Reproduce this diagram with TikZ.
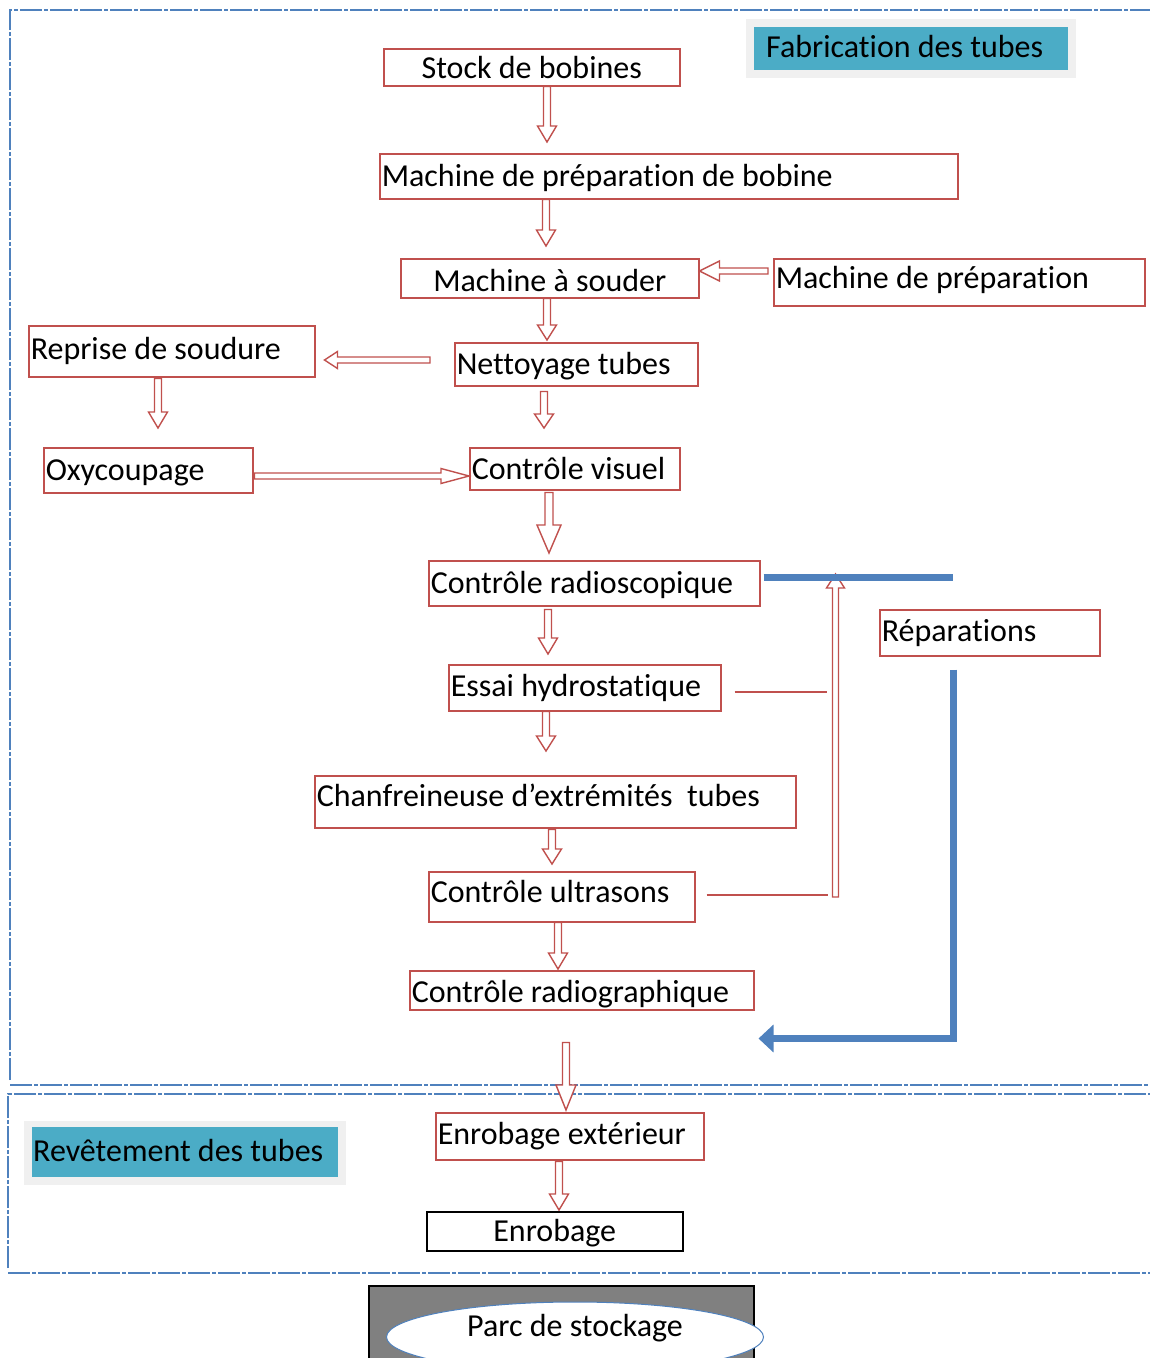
\documentclass[tikz,border=0pt]{standalone}
\usepackage{fontspec}
\setmainfont{Carlito}[Ligatures=NoCommon]
\usetikzlibrary{calc,arrows.meta,shapes.geometric}

\definecolor{boxred}{HTML}{C0504D}
\definecolor{lineblue}{HTML}{4F81BD}
\definecolor{tagblue}{HTML}{4BACC6}
\definecolor{taggray}{HTML}{F0F0F0}
\definecolor{parcgray}{HTML}{808080}

% hollow block arrow: start, end, shaft half width, head half width, head length
\newcommand\blockarrow[5]{%
  \coordinate (ba-s) at #1;
  \coordinate (ba-e) at #2;
  \coordinate (ba-q) at ($(ba-e)!#5!(ba-s)$);
  \draw[arrowline]
    ($(ba-s)!#3!90:(ba-e)$) -- ($(ba-q)!#3!-90:(ba-s)$) --
    ($(ba-q)!#4!-90:(ba-s)$) -- (ba-e) -- ($(ba-q)!#4!90:(ba-s)$) --
    ($(ba-q)!#3!90:(ba-s)$) -- ($(ba-s)!#3!-90:(ba-e)$) -- cycle;
}
% shift a label vertically without changing its box
\newcommand\lift[2]{\raisebox{#1}[\height][\depth]{#2}}

\tikzset{
  every node/.style={font=\fontsize{32}{37}\selectfont, text=black},
  rbox/.style={draw=boxred, line width=1.5pt, anchor=north west,
    inner xsep=2pt, inner ysep=0pt, align=flush left},
  arrowline/.style={draw=boxred, fill=white, line width=1.4pt, line join=miter},
  thinred/.style={draw=boxred, line width=1.2pt},
  bluebar/.style={draw=lineblue, line width=7pt},
  section/.style={draw=lineblue, line width=1.6pt,
    dash pattern=on 22pt off 2pt on 4pt off 2pt},
  tag/.style={fill=tagblue, anchor=north west, inner xsep=12pt, inner ysep=0pt,
    align=flush left},
}

\begin{document}
\begin{tikzpicture}[x=1pt, y=-1pt]
\useasboundingbox (0,0) rectangle (1150,1358);

% section frames
\draw[section] (10,1080) -- (10,10) -- (1150,10);
\draw[section] (10,1085) -- (1150,1085);
\draw[section] (8,1268) -- (8,1094) -- (1150,1094);
\draw[section] (8,1273) -- (1150,1273);

% section titles
\fill[taggray] (746,19) rectangle (1076,78);
\node[tag, minimum width=314pt, minimum height=43pt, text width=290pt] (fab) at (754,27) {\lift{2pt}{Fabrication des tubes}};
\fill[taggray] (24,1121) rectangle (346,1185);
\node[tag, minimum width=306pt, minimum height=50pt, text width=304pt, inner xsep=1pt] (rev) at (32,1127) {\lift{2pt}{Revêtement des tubes}};

% process steps
\node[rbox, minimum width=296pt, minimum height=37pt, text width=292pt, align=flush center] (stock) at (383,48) {Stock de bobines\hspace{9pt}};
\node[rbox, minimum width=578pt, minimum height=45pt, text width=574pt] (prepb) at (379,153) {\lift{-2pt}{Machine de préparation de bobine}};
\node[rbox, minimum width=298pt, minimum height=39pt, text width=294pt, align=flush center] (souder) at (400,258) {\lift{-2pt}{Machine à souder}\hspace{6pt}};
\node[rbox, minimum width=371pt, minimum height=47pt, text width=367pt] (prepm) at (773,258) {\lift{2pt}{Machine de préparation}};
\node[rbox, minimum width=286pt, minimum height=51pt, text width=282pt] (reprise) at (28,325) {Reprise de soudure};
\node[rbox, minimum width=243pt, minimum height=43pt, text width=239pt] (nett) at (454,342) {\lift{-2pt}{Nettoyage tubes}};
\node[rbox, minimum width=209pt, minimum height=45pt, text width=205pt] (oxy) at (43,447) {\lift{-3pt}{Oxycoupage}};
\node[rbox, minimum width=210pt, minimum height=42pt, text width=206pt] (visuel) at (469,447) {Contrôle visuel};
\node[rbox, minimum width=331pt, minimum height=45pt, text width=327pt] (radio) at (428,560) {\lift{-2pt}{Contrôle radioscopique}};
\node[rbox, minimum width=220pt, minimum height=46pt, text width=216pt] (rep) at (879,609) {Réparations};
\node[rbox, minimum width=272pt, minimum height=46pt, text width=268pt] (essai) at (448,664) {Essai hydrostatique};
\node[rbox, minimum width=481pt, minimum height=52pt, text width=477pt] (chanf) at (314,775) {\lift{6pt}{Chanfreineuse d’extrémités\ \ tubes}};
\node[rbox, minimum width=266pt, minimum height=50pt, text width=262pt] (ultra) at (428,871) {\lift{5pt}{Contrôle ultrasons}};
\node[rbox, minimum width=344pt, minimum height=39pt, text width=340pt] (radiog) at (409,970) {\lift{-4pt}{Contrôle radiographique}};
\node[rbox, minimum width=268pt, minimum height=47pt, text width=264pt] (enrx) at (435,1112) {Enrobage extérieur};
\node[rbox, draw=black, minimum width=256pt, minimum height=39pt, text width=252pt, align=flush center] (enrob) at (426,1211) {\lift{-2pt}{Enrobage}\hspace{8pt}};

% storage yard
\filldraw[fill=parcgray, draw=black, line width=1.5pt] (369,1420) -- (369,1286) -- (754,1286) -- (754,1420);
\node[ellipse, draw=lineblue, fill=white, line width=1pt, minimum width=377pt, minimum height=70pt] (parc-e) at (575,1337) {};
\node (parc) at (575,1328) {Parc de stockage};

% main flow
\blockarrow{($(stock.south west)+(164,0)$)}{($(prepb.north west)+(168,-11)$)}{3.5pt}{9.5pt}{16pt}
\blockarrow{($(prepb.south west)+(167,0)$)}{($(souder.north west)+(146,-12)$)}{3.5pt}{9.5pt}{16pt}
\blockarrow{($(souder.south west)+(147,0)$)}{($(nett.north west)+(93,-2)$)}{3.5pt}{9.5pt}{15pt}
\blockarrow{($(prepm.north west)+(-5,13)$)}{($(souder.north east)+(0,13)$)}{3pt}{10pt}{20pt}
\blockarrow{($(nett.north west)+(-24,18)$)}{($(reprise.north east)+(9,35)$)}{3pt}{8.5pt}{13pt}
\blockarrow{($(reprise.south west)+(130,1)$)}{($(oxy.north west)+(115,-19)$)}{3.5pt}{9.5pt}{16pt}
\blockarrow{($(nett.south west)+(90,5)$)}{($(visuel.north west)+(75,-19)$)}{3.5pt}{9.5pt}{14pt}
\blockarrow{($(oxy.north east)+(1,29)$)}{($(visuel.north west)+(0,29)$)}{3pt}{7.5pt}{28pt}
\blockarrow{($(visuel.south west)+(80,2)$)}{($(radio.north west)+(121,-7)$)}{4pt}{12pt}{28pt}
\blockarrow{($(radio.south west)+(120,3)$)}{($(essai.north west)+(100,-10)$)}{3.5pt}{9.5pt}{16pt}
\blockarrow{($(essai.south west)+(98,0)$)}{($(chanf.north west)+(232,-24)$)}{3.5pt}{9.5pt}{15pt}
\blockarrow{($(chanf.south west)+(238,1)$)}{($(ultra.north west)+(124,-7)$)}{3.5pt}{9.5pt}{15pt}
\blockarrow{($(ultra.south west)+(130,0)$)}{($(radiog.north west)+(149,-1)$)}{3.5pt}{9.5pt}{16pt}
\blockarrow{($(radiog.south west)+(157,32)$)}{($(enrx.north west)+(131,-2)$)}{3.5pt}{10pt}{25pt}
\blockarrow{($(enrx.south west)+(124,1)$)}{($(enrob.north west)+(133,-1)$)}{3.5pt}{9.5pt}{16pt}

% return loop towards radioscopic control
\coordinate (hyd-a) at ($(essai.north east)+(13,28)$);
\coordinate (hyd-b) at ($(essai.north east)+(105,28)$);
\draw[thinred] (hyd-a) -- (hyd-b);
\coordinate (us-a) at ($(ultra.north east)+(11,24)$);
\coordinate (us-b) at ($(ultra.north east)+(132,24)$);
\draw[thinred] (us-a) -- (us-b);
\blockarrow{($(ultra.north east)+(140,26)$)}{($(radio.north east)+(75,14)$)}{3pt}{9pt}{14pt}

% repair branch
\coordinate (rep-top) at ($(rep.north west)+(74,-32)$);
\draw[bluebar] ($(radio.north east)+(3,17)$) -- (rep-top);
\coordinate (rep-back) at ($(radiog.south east)+(4,28)$);
\draw[bluebar, line join=miter, -{Triangle[length=15pt, width=27pt]}]
  ($(rep.south west)+(74,13)$) |- (rep-back);
\end{tikzpicture}
\end{document}
